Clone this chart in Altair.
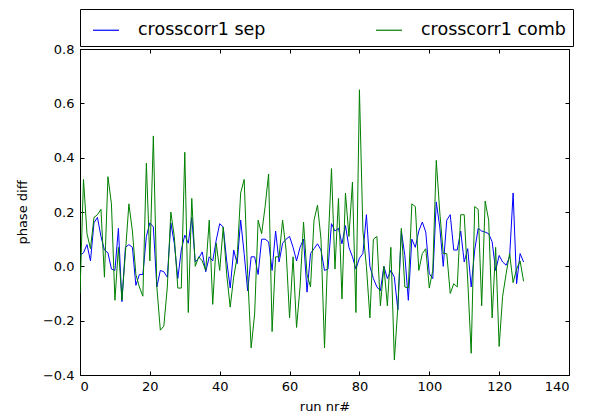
import altair as alt
import pandas as pd

runs = list(range(128))

sep = [0.04, 0.05, 0.08, 0.02, 0.16, 0.18, 0.11, 0.06, 0.05, -0.01,
       -0.015, 0.14, -0.13, 0.07, 0.08, 0.07, -0.07, -0.03, -0.03, 0.11,
       0.16, 0.145, -0.076, -0.015, -0.02, -0.04, 0.16, 0.085, -0.045, 0.06,
       0.115, 0.085, 0.18, 0.016, 0.03, 0.053, -0.02, 0.035, 0.02, 0.096,
       0.157, 0.145, 0.02, -0.08, 0.06, 0.01, 0.17, 0.047, -0.09, 0.035,
       0.035, -0.03, 0.10, 0.10, 0.09, -0.015, 0.13, 0.016, 0.085, 0.10,
       0.11, 0.07, 0.02, 0.07, 0.10, -0.095, 0.047, 0.065, 0.083, 0.06,
       -0.015, -0.01, 0.157, 0.13, 0.14, 0.083, 0.15, 0.07, 0.035, -0.01,
       0.03, 0.047, 0.19, 0.0, -0.045, -0.076, -0.09, 0.0, -0.045, -0.015,
       -0.04, -0.16, 0.13, 0.04, -0.125, 0.10, 0.07, 0.13, 0.163, 0.126,
       -0.027, -0.045, 0.237, 0.145, 0.0, 0.17, 0.19, 0.06, 0.06, 0.13,
       0.016, 0.065, -0.076, 0.06, 0.14, 0.13, 0.126, 0.12, 0.09, -0.015,
       0.04, 0.016, 0.004, 0.035, 0.27, -0.064, 0.047, 0.016]

comb = [-0.10, 0.32, 0.12, 0.065, 0.18, 0.19, 0.21, -0.04, 0.33, 0.23,
        -0.125, 0.07, -0.125, 0.05, 0.23, 0.13, -0.03, -0.076, -0.11, 0.38,
        0.02, 0.48, -0.076, -0.235, -0.22, -0.076, 0.20, 0.11, -0.08, -0.08,
        0.42, -0.17, 0.25, 0.0, 0.035, 0.02, -0.015, 0.17, -0.14, 0.085,
        -0.015, 0.145, -0.03, -0.15, -0.04, 0.035, 0.27, 0.32, -0.03, -0.30,
        -0.175, 0.17, 0.12, 0.22, 0.34, -0.24, 0.035, 0.035, 0.17, 0.06,
        -0.19, 0.035, -0.225, -0.076, 0.163, -0.03, -0.076, 0.17, 0.225, 0.10,
        -0.30, 0.07, 0.36, -0.01, 0.25, -0.12, 0.27, 0.11, 0.31, -0.17,
        0.65, 0.13, 0.0, -0.19, 0.10, 0.11, -0.145, 0.0, -0.145, 0.07,
        -0.345, -0.15, 0.14, -0.076, -0.08, 0.23, 0.22, -0.015, 0.047, 0.065,
        -0.08, -0.015, 0.39, 0.20, 0.047, 0.047, -0.10, -0.064, -0.076, 0.19,
        0.19, -0.05, -0.32, 0.22, 0.21, -0.145, 0.24, 0.17, -0.19, 0.07,
        -0.295, -0.11, -0.027, 0.047, -0.06, -0.01, 0.02, -0.055]

series_names = ["crosscorr1 sep", "crosscorr1 comb"]
series_colors = ["#0000ff", "#008000"]
x_ticks = [0, 20, 40, 60, 80, 100, 120, 140]
y_ticks = [-0.4, -0.2, 0.0, 0.2, 0.4, 0.6, 0.8]

df = pd.DataFrame({
    "run": runs + runs,
    "value": sep + comb,
    "series": [series_names[0]] * len(runs) + [series_names[1]] * len(runs),
})

FONT = "DejaVu Sans"
xscale = alt.Scale(domain=[0, 140], nice=False, zero=False)
yscale = alt.Scale(domain=[-0.4, 0.8], nice=False, zero=False)

color_enc = alt.Color(
    "series:N",
    scale=alt.Scale(domain=series_names, range=series_colors),
    title=None,
    legend=alt.Legend(
        orient="none", legendX=0, legendY=-40, direction="horizontal", columns=2,
        strokeColor="black", fillColor="white", padding=7, cornerRadius=0,
        symbolType="stroke", symbolSize=676, symbolStrokeWidth=1.2,
        symbolOffset=5, labelOffset=18, columnPadding=104,
        labelFont=FONT, labelFontSize=17.5, labelColor="black", labelLimit=300,
    ),
)

x_main = alt.X("run:Q", scale=xscale, axis=alt.Axis(
    orient="bottom", values=x_ticks, offset=-4, tickSize=4, domain=False, grid=False,
    labelPadding=5, format="d", title="run nr#", titlePadding=7,
    labelFont=FONT, labelFontSize=13, titleFont=FONT, titleFontSize=13,
    titleFontWeight="normal", labelColor="black", titleColor="black", tickColor="black"))
y_main = alt.Y("value:Q", scale=yscale, axis=alt.Axis(
    orient="left", values=y_ticks, offset=-4, tickSize=4, domain=False, grid=False,
    labelPadding=6, format=".1f", title="phase diff", titlePadding=13,
    labelFont=FONT, labelFontSize=13, titleFont=FONT, titleFontSize=13,
    titleFontWeight="normal", labelColor="black", titleColor="black", tickColor="black"))

base = alt.Chart(df)

sep_line = base.transform_filter(alt.datum.series == series_names[0]).mark_line(
    strokeWidth=1, clip=True).encode(x=x_main, y=y_main, color=color_enc)
comb_line = base.transform_filter(alt.datum.series == series_names[1]).mark_line(
    strokeWidth=1, clip=True).encode(
    x=alt.X("run:Q", scale=xscale, axis=None),
    y=alt.Y("value:Q", scale=yscale, axis=None),
    color=color_enc)

ticks_other = base.mark_point(opacity=0).encode(
    x=alt.X("run:Q", scale=xscale, axis=alt.Axis(
        orient="top", values=x_ticks, offset=-4, tickSize=4, domain=False, grid=False,
        labels=False, title=None, tickColor="black")),
    y=alt.Y("value:Q", scale=yscale, axis=alt.Axis(
        orient="right", values=y_ticks, offset=-4, tickSize=4, domain=False, grid=False,
        labels=False, title=None, tickColor="black")),
)

chart = alt.layer(sep_line, comb_line, ticks_other).resolve_axis(
    x="independent", y="independent"
).properties(
    width=489, height=326,
    autosize=alt.AutoSizeParams(type="none"),
    padding={"left": 72, "top": 41, "right": 17, "bottom": 41},
    background="white",
).configure_view(stroke="black", strokeWidth=1)

chart.save("out.html", embed_options={"renderer": "svg", "actions": False})
